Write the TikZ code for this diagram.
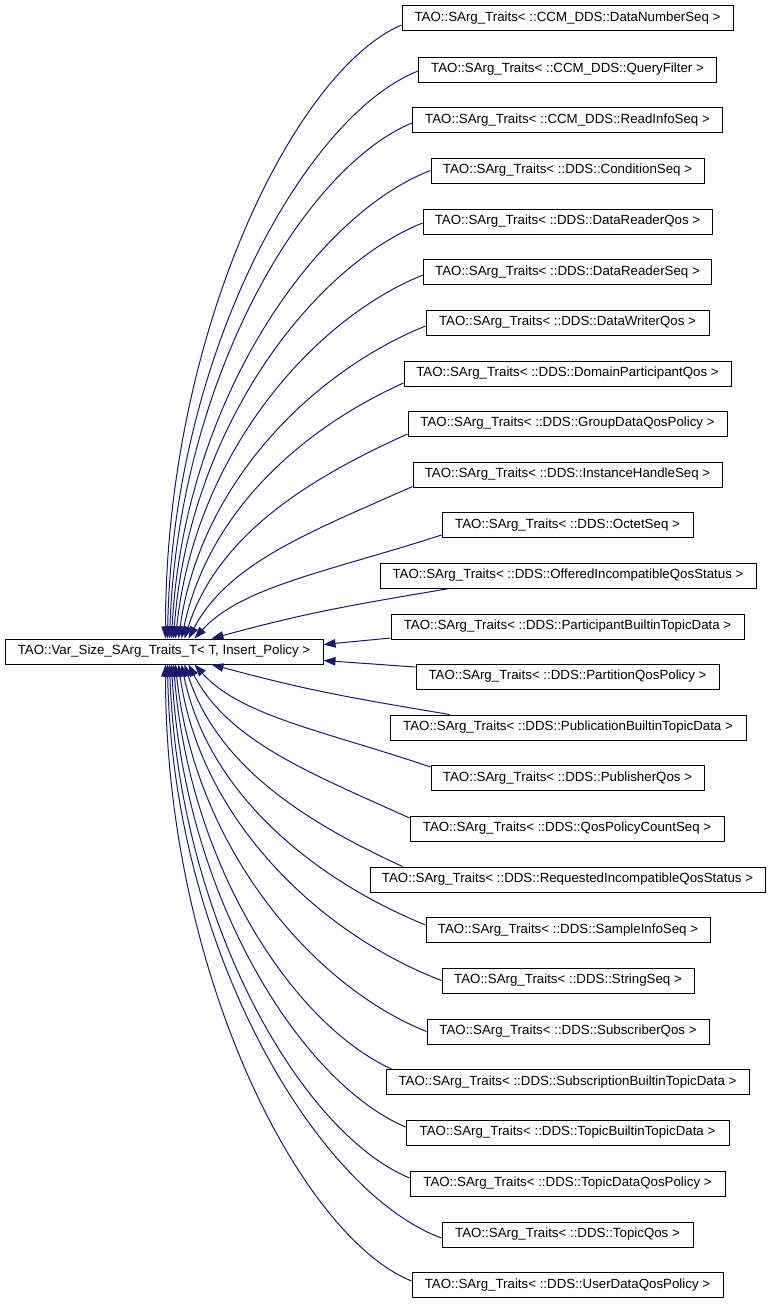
\documentclass[tikz,border=0pt]{standalone}
\usepackage{fontspec}
\setmainfont{Liberation Sans}
\usetikzlibrary{arrows.meta,calc}
\definecolor{edgeblue}{HTML}{191970}
\newcommand\tsarg[1]{TAO::SArg\_Traits< ::#1 >}
\begin{document}
\begin{tikzpicture}[x=1pt,y=-1pt,
  box/.style={draw=black,line width=1pt,fill=white,inner sep=0pt,minimum height=25pt,
    font=\fontsize{13.3}{16}\selectfont,anchor=center},
  edge/.style={draw=edgeblue,line width=1pt,-{Triangle[length=12pt,width=8.5pt]}}]
\useasboundingbox[fill=white] (0,0) rectangle (771,1304);

\node[box,minimum width=318pt] (main) at (164,651.5) {TAO::Var\_Size\_SArg\_Traits\_T< T, Insert\_Policy >};

\node[box,minimum width=331pt] (c0) at (567.5,18) {\tsarg{CCM\_DDS::DataNumberSeq}};
\node[box,minimum width=298pt] (c1) at (567.5,69.5) {\tsarg{CCM\_DDS::QueryFilter}};
\node[box,minimum width=310pt] (c2) at (567.5,120) {\tsarg{CCM\_DDS::ReadInfoSeq}};
\node[box,minimum width=273pt] (c3) at (567.5,170.5) {\tsarg{DDS::ConditionSeq}};
\node[box,minimum width=289pt] (c4) at (567.5,221.5) {\tsarg{DDS::DataReaderQos}};
\node[box,minimum width=288pt] (c5) at (567.5,272) {\tsarg{DDS::DataReaderSeq}};
\node[box,minimum width=283pt] (c6) at (567.5,322.5) {\tsarg{DDS::DataWriterQos}};
\node[box,minimum width=327pt] (c7) at (567.5,373.5) {\tsarg{DDS::DomainParticipantQos}};
\node[box,minimum width=319pt] (c8) at (567.5,423.5) {\tsarg{DDS::GroupDataQosPolicy}};
\node[box,minimum width=309pt] (c9) at (567.5,474.5) {\tsarg{DDS::InstanceHandleSeq}};
\node[box,minimum width=251pt] (c10) at (567.5,525) {\tsarg{DDS::OctetSeq}};
\node[box,minimum width=376pt] (c11) at (568,575.5) {\tsarg{DDS::OfferedIncompatibleQosStatus}};
\node[box,minimum width=353pt] (c12) at (567.5,626.5) {\tsarg{DDS::ParticipantBuiltinTopicData}};
\node[box,minimum width=303pt] (c13) at (567.5,676.5) {\tsarg{DDS::PartitionQosPolicy}};
\node[box,minimum width=356pt] (c14) at (568,727.5) {\tsarg{DDS::PublicationBuiltinTopicData}};
\node[box,minimum width=273pt] (c15) at (567.5,778) {\tsarg{DDS::PublisherQos}};
\node[box,minimum width=314pt] (c16) at (567,828.5) {\tsarg{DDS::QosPolicyCountSeq}};
\node[box,minimum width=395pt] (c17) at (567.5,879.5) {\tsarg{DDS::RequestedIncompatibleQosStatus}};
\node[box,minimum width=284pt] (c18) at (568,930) {\tsarg{DDS::SampleInfoSeq}};
\node[box,minimum width=252pt] (c19) at (568,980.5) {\tsarg{DDS::StringSeq}};
\node[box,minimum width=282pt] (c20) at (568,1031.5) {\tsarg{DDS::SubscriberQos}};
\node[box,minimum width=363pt] (c21) at (567.5,1082) {\tsarg{DDS::SubscriptionBuiltinTopicData}};
\node[box,minimum width=323pt] (c22) at (567.5,1132.5) {\tsarg{DDS::TopicBuiltinTopicData}};
\node[box,minimum width=315pt] (c23) at (567.5,1183.5) {\tsarg{DDS::TopicDataQosPolicy}};
\node[box,minimum width=251pt] (c24) at (567.5,1234.5) {\tsarg{DDS::TopicQos}};
\node[box,minimum width=311pt] (c25) at (567.5,1285) {\tsarg{DDS::UserDataQosPolicy}};

% edges above the main box
\draw[edge] ($(c0.west)+(0,7)$) .. controls +(-106,45) and +(0,-307) .. ($(main.north west)+(161,0)$);
\draw[edge] ($(c1.west)+(0,1.5)$) .. controls +(-113,45) and +(5,-284) .. ($(main.north west)+(163,0)$);
\draw[edge] ($(c2.west)+(0,3)$) .. controls +(-109,45) and +(9,-258) .. ($(main.north west)+(165,0)$);
\draw[edge] ($(c3.west)+(0,0)$) .. controls +(-117,45) and +(12,-235) .. ($(main.north west)+(167,0)$);
\draw[edge] ($(c4.west)+(0,1.5)$) .. controls +(-112,45) and +(15,-208) .. ($(main.north west)+(169,0)$);
\draw[edge] ($(c5.west)+(0,3)$) .. controls +(-112,45) and +(19,-182) .. ($(main.north west)+(171,0)$);
\draw[edge] ($(c6.west)+(0,3.5)$) .. controls +(-111,45) and +(22,-157) .. ($(main.north west)+(174,0)$);
\draw[edge] ($(c7.west)+(0,9.5)$) .. controls +(-100,45) and +(27,-128) .. ($(main.north west)+(177,0)$);
\draw[edge] ($(c8.west)+(0,10.5)$) .. controls +(-100,45) and +(33,-103) .. ($(main.north west)+(180,0)$);
\draw[edge] ($(c9.west)+(0,12)$) .. controls +(-101,45) and +(40,-76) .. ($(main.north west)+(184,0)$);
\draw[edge] ($(c10.west)+(0,10)$) .. controls +(-111,36) and +(47,-52) .. ($(main.north west)+(190,0)$);
\draw[edge] ($(c11.south west)+(70,0)$) .. controls +(-107,18) and +(95,-25.5) .. ($(main.north west)+(207,0)$);

% edges to the right side of the main box
\draw[edge] ($(c12.west)+(0,11.5)$) -- ($(main.north east)+(0,6)$);
\draw[edge] ($(c13.west)+(0,-9.5)$) -- ($(main.north east)+(0,22)$);

% edges below the main box
\draw[edge] ($(c14.north west)+(60,0)$) .. controls +(-107,-18) and +(95,25.5) .. ($(main.south west)+(207,0)$);
\draw[edge] ($(c15.west)+(0,-11)$) .. controls +(-106,-36) and +(46,51.5) .. ($(main.south west)+(190,0)$);
\draw[edge] ($(c16.west)+(0,-10.5)$) .. controls +(-99,-45) and +(40,77) .. ($(main.south west)+(184,0)$);
\draw[edge] ($(c17.north west)+(33,0)$) .. controls +(-98,-45) and +(33,101.5) .. ($(main.south west)+(180,0)$);
\draw[edge] ($(c18.west)+(0,-5)$) .. controls +(-110,-45) and +(27,130.5) .. ($(main.south west)+(177,0)$);
\draw[edge] ($(c19.west)+(0,0)$) .. controls +(-118,-45) and +(22,158) .. ($(main.south west)+(174,0)$);
\draw[edge] ($(c20.west)+(0,0)$) .. controls +(-113,-45) and +(19,183.5) .. ($(main.south west)+(171,0)$);
\draw[edge] ($(c21.north west)+(6,0)$) .. controls +(-98,-45) and +(16,202.5) .. ($(main.south west)+(169,0)$);
\draw[edge] ($(c22.west)+(0,-5.5)$) .. controls +(-105,-45) and +(12,231.5) .. ($(main.south west)+(167,0)$);
\draw[edge] ($(c23.west)+(0,-5.5)$) .. controls +(-108,-45) and +(9,257) .. ($(main.south west)+(165,0)$);
\draw[edge] ($(c24.west)+(0,3.5)$) .. controls +(-123,-45) and +(5,287) .. ($(main.south west)+(163,0)$);
\draw[edge] ($(c25.west)+(0,-4)$) .. controls +(-111,-45) and +(0,308.5) .. ($(main.south west)+(161,0)$);
\end{tikzpicture}
\end{document}
